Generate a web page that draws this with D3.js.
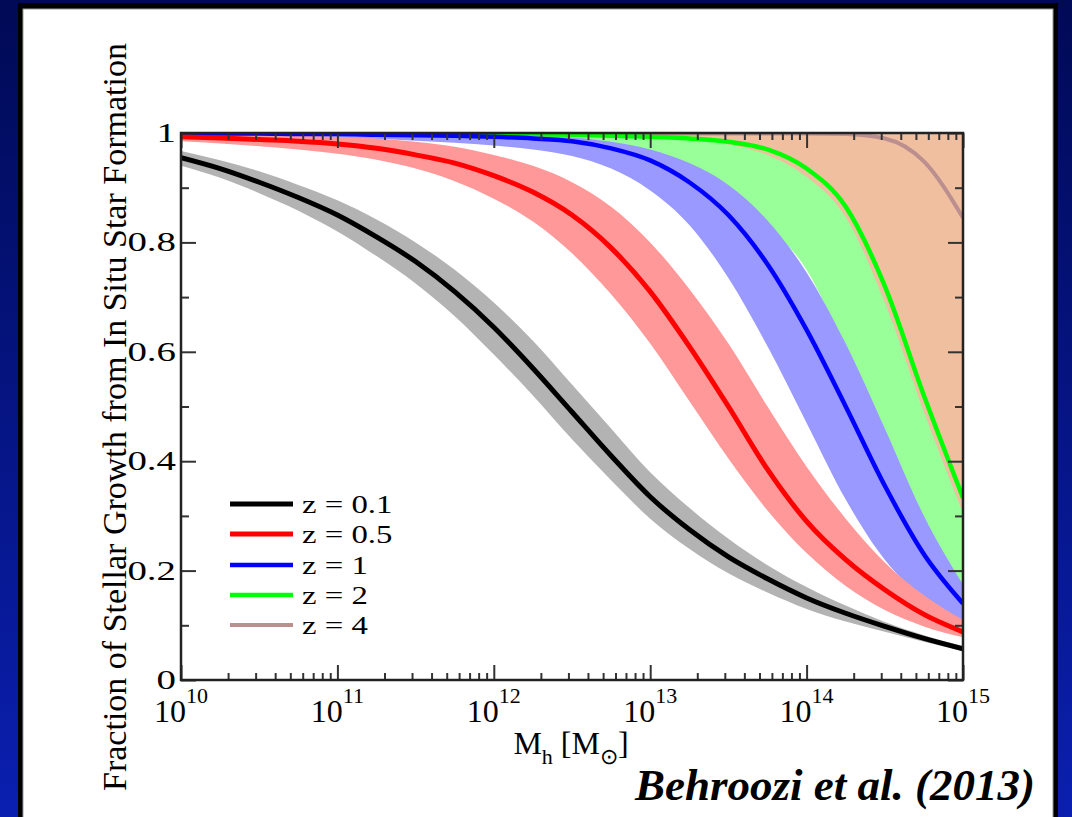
<!DOCTYPE html>
<html>
<head>
<meta charset="utf-8">
<script src="https://cdn.jsdelivr.net/npm/d3@7"></script>
<style>
html, body { margin: 0; padding: 0; overflow: hidden; background: #000b57; }
svg { display: block; }
text { font-family: "Liberation Serif", "Times New Roman", serif; }
</style>
</head>
<body>
<div id="chart"></div>
<script>
// log10 of halo mass, shared x grid for every series
const logMass = [10, 10.25, 10.5, 10.75, 11, 11.25, 11.5, 11.75, 12, 12.25, 12.5,
                 12.75, 13, 13.25, 13.5, 13.75, 14, 14.25, 14.5, 14.75, 15];

// in situ fraction, central lines
const frac_z01 = [0.955, 0.935, 0.91, 0.882, 0.85, 0.81, 0.765, 0.71, 0.645, 0.57, 0.49,
                  0.41, 0.335, 0.275, 0.225, 0.185, 0.15, 0.122, 0.098, 0.076, 0.057];
const frac_z05 = [0.993, 0.991, 0.988, 0.985, 0.98, 0.972, 0.96, 0.945, 0.922, 0.892, 0.85,
                  0.79, 0.71, 0.61, 0.5, 0.385, 0.29, 0.22, 0.165, 0.12, 0.088];
const frac_z1  = [0.999, 0.999, 0.999, 0.998, 0.998, 0.997, 0.996, 0.995, 0.993, 0.99, 0.985,
                  0.972, 0.95, 0.91, 0.85, 0.76, 0.64, 0.5, 0.355, 0.23, 0.14];
const frac_z2  = [1, 1, 1, 1, 1, 1, 1, 0.999, 0.999, 0.998, 0.997,
                  0.995, 0.993, 0.99, 0.984, 0.97, 0.935, 0.865, 0.72, 0.52, 0.333];
const frac_z4  = [1, 1, 1, 1, 1, 1, 1, 1, 1, 1, 1,
                  1, 0.999, 0.999, 0.999, 0.999, 0.999, 0.998, 0.99, 0.948, 0.845];

// uncertainty bands (lower / upper)
const band_z01_lo = [0.94, 0.918, 0.89, 0.858, 0.82, 0.775, 0.725, 0.665, 0.595, 0.52, 0.44,
                     0.365, 0.295, 0.24, 0.195, 0.16, 0.13, 0.107, 0.088, 0.07, 0.053];
const band_z01_hi = [0.967, 0.95, 0.93, 0.905, 0.877, 0.842, 0.8, 0.75, 0.69, 0.62, 0.54,
                     0.46, 0.38, 0.315, 0.258, 0.21, 0.17, 0.136, 0.106, 0.082, 0.062];
const band_z05_lo = [0.985, 0.981, 0.976, 0.97, 0.962, 0.951, 0.935, 0.912, 0.88, 0.838, 0.78,
                     0.705, 0.615, 0.51, 0.405, 0.31, 0.232, 0.172, 0.128, 0.098, 0.078];
const band_z05_hi = [0.999, 0.998, 0.997, 0.995, 0.993, 0.99, 0.984, 0.975, 0.96, 0.94, 0.91,
                     0.865, 0.8, 0.715, 0.615, 0.5, 0.39, 0.295, 0.215, 0.155, 0.11];
const band_z1_lo  = [0.997, 0.996, 0.995, 0.993, 0.991, 0.989, 0.986, 0.982, 0.977, 0.97, 0.958,
                     0.935, 0.895, 0.832, 0.735, 0.61, 0.47, 0.33, 0.22, 0.15, 0.106];
const band_z1_hi  = [1, 1, 1, 1, 1, 0.999, 0.999, 0.998, 0.997, 0.995, 0.992,
                     0.984, 0.97, 0.945, 0.905, 0.84, 0.745, 0.615, 0.46, 0.3, 0.175];
const band_z2_lo  = [1, 1, 1, 1, 0.999, 0.999, 0.998, 0.997, 0.995, 0.992, 0.987,
                     0.978, 0.962, 0.935, 0.89, 0.83, 0.75, 0.6, 0.42, 0.27, 0.165];
const band_z2_hi  = [1, 1, 1, 1, 1, 1, 1, 1, 1, 1, 1,
                     1, 1, 1, 1, 1, 1, 1, 1, 1, 1];
const band_z4_lo  = [1, 1, 1, 1, 1, 1, 1, 1, 1, 1, 1,
                     0.999, 0.997, 0.992, 0.979, 0.96, 0.92, 0.846, 0.69, 0.49, 0.305];
const band_z4_hi  = [1, 1, 1, 1, 1, 1, 1, 1, 1, 1, 1,
                     1, 1, 1, 1, 1, 1, 1, 1, 1, 1];

const legendLabels = ["z = 0.1", "z = 0.5", "z = 1", "z = 2", "z = 4"];
const yTicks = [0, 0.2, 0.4, 0.6, 0.8, 1];
const yTickLabels = ["0", "0.2", "0.4", "0.6", "0.8", "1"];
const yMinor = [0.1, 0.3, 0.5, 0.7, 0.9];
const xDecades = [10, 11, 12, 13, 14, 15];

const W = 1072, H = 817;
const svg = d3.select("#chart").append("svg").attr("width", W).attr("height", H);

// slide background
const defs = svg.append("defs");
const grad = defs.append("linearGradient").attr("id", "bg").attr("x1", 0).attr("y1", 0).attr("x2", 0).attr("y2", 1);
grad.append("stop").attr("offset", "0%").attr("stop-color", "#000a55");
grad.append("stop").attr("offset", "100%").attr("stop-color", "#0a1fb0");
svg.append("rect").attr("width", W).attr("height", H).attr("fill", "url(#bg)");

svg.append("rect").attr("x", 18).attr("y", 3).attr("width", 1040).attr("height", 840).attr("fill", "#000");
svg.append("rect").attr("x", 23).attr("y", 9).attr("width", 1030).attr("height", 830)
    .attr("fill", "#fff").attr("stroke", "#999").attr("stroke-width", 1);

const plotLeft = 181, plotRight = 963, plotTop = 133, plotBottom = 680;

const x = d3.scaleLog().domain([1e10, 1e15]).range([plotLeft, plotRight]);
const y = d3.scaleLinear().domain([0, 1]).range([plotBottom, plotTop]);

defs.append("clipPath").attr("id", "plotclip")
    .append("rect").attr("x", plotLeft).attr("y", plotTop - 1)
    .attr("width", plotRight - plotLeft).attr("height", plotBottom - plotTop + 1);

const series = [
    { label: legendLabels[0], line: frac_z01, lo: band_z01_lo, hi: band_z01_hi, lineColor: "#000000", bandColor: "#b3b3b3", width: 5 },
    { label: legendLabels[1], line: frac_z05, lo: band_z05_lo, hi: band_z05_hi, lineColor: "#ff0000", bandColor: "#ff9999", width: 5 },
    { label: legendLabels[2], line: frac_z1,  lo: band_z1_lo,  hi: band_z1_hi,  lineColor: "#0000ff", bandColor: "#9999ff", width: 4.5 },
    { label: legendLabels[3], line: frac_z2,  lo: band_z2_lo,  hi: band_z2_hi,  lineColor: "#00ff00", bandColor: "#99ff99", width: 4.5 },
    { label: legendLabels[4], line: frac_z4,  lo: band_z4_lo,  hi: band_z4_hi,  lineColor: "#bc8f8f", bandColor: "#efbfa0", width: 4 }
];

const plot = svg.append("g").attr("clip-path", "url(#plotclip)");

const area = d3.area()
    .x(d => x(Math.pow(10, d.m)))
    .y0(d => y(d.lo))
    .y1(d => y(d.hi))
    .curve(d3.curveMonotoneX);

const line = d3.line()
    .x(d => x(Math.pow(10, d.m)))
    .y(d => y(d.v))
    .curve(d3.curveMonotoneX);

// band draw order: z=2, z=4, z=1, z=0.5, z=0.1
[3, 4, 2, 1, 0].forEach(i => {
    const s = series[i];
    plot.append("path")
        .datum(logMass.map((m, j) => ({ m: m, lo: s.lo[j], hi: s.hi[j] })))
        .attr("fill", s.bandColor)
        .attr("d", area);
});

[4, 3, 2, 1, 0].forEach(i => {
    const s = series[i];
    plot.append("path")
        .datum(logMass.map((m, j) => ({ m: m, v: s.line[j] })))
        .attr("fill", "none")
        .attr("stroke", s.lineColor)
        .attr("stroke-width", s.width)
        .attr("d", line);
});

// axes with inward ticks
const majorX = xDecades.map(d => Math.pow(10, d));
const minorX = [];
xDecades.slice(0, -1).forEach(d => {
    for (let k = 2; k <= 9; k++) minorX.push(k * Math.pow(10, d));
});

function styleAxis(g) {
    g.select(".domain").remove();
    g.selectAll(".tick line").attr("stroke", "#333").attr("stroke-width", 2);
    g.selectAll(".tick text").remove();
}

svg.append("g").attr("transform", `translate(0,${plotBottom})`)
    .call(d3.axisBottom(x).tickValues(majorX).tickSize(-15)).call(styleAxis);
svg.append("g").attr("transform", `translate(0,${plotBottom})`)
    .call(d3.axisBottom(x).tickValues(minorX).tickSize(-7)).call(styleAxis);
svg.append("g").attr("transform", `translate(0,${plotTop})`)
    .call(d3.axisTop(x).tickValues(majorX).tickSize(-15)).call(styleAxis);
svg.append("g").attr("transform", `translate(0,${plotTop})`)
    .call(d3.axisTop(x).tickValues(minorX).tickSize(-7)).call(styleAxis);

svg.append("g").attr("transform", `translate(${plotLeft},0)`)
    .call(d3.axisLeft(y).tickValues(yTicks).tickSize(-15)).call(styleAxis);
svg.append("g").attr("transform", `translate(${plotLeft},0)`)
    .call(d3.axisLeft(y).tickValues(yMinor).tickSize(-8)).call(styleAxis);
svg.append("g").attr("transform", `translate(${plotRight},0)`)
    .call(d3.axisRight(y).tickValues(yTicks).tickSize(-15)).call(styleAxis);
svg.append("g").attr("transform", `translate(${plotRight},0)`)
    .call(d3.axisRight(y).tickValues(yMinor).tickSize(-8)).call(styleAxis);

svg.append("rect")
    .attr("x", plotLeft).attr("y", plotTop)
    .attr("width", plotRight - plotLeft).attr("height", plotBottom - plotTop)
    .attr("fill", "none").attr("stroke", "#222").attr("stroke-width", 2.5);

// y tick labels (stretched wide, as in the original)
yTicks.forEach((t, i) => {
    svg.append("text")
        .attr("transform", `translate(176,${y(t) + 9}) scale(1.44,1)`)
        .attr("text-anchor", "end")
        .attr("font-size", 27)
        .text(yTickLabels[i]);
});

// x tick labels 10^n
xDecades.forEach(d => {
    const t = svg.append("text")
        .attr("x", x(Math.pow(10, d)))
        .attr("y", 722)
        .attr("text-anchor", "middle")
        .attr("font-size", 32);
    t.append("tspan").text("10");
    t.append("tspan").attr("font-size", 22).attr("dy", -19).text(d);
});

// axis titles
const xt = svg.append("text")
    .attr("x", 571).attr("y", 754)
    .attr("text-anchor", "middle")
    .attr("font-size", 32);
xt.append("tspan").text("M");
xt.append("tspan").attr("font-size", 22).attr("dy", 10).text("h");
xt.append("tspan").attr("dy", -10).text(" [M");
xt.append("tspan").attr("font-size", 22).attr("dy", 10).text("\u2299");
xt.append("tspan").attr("dy", -10).text("]");

svg.append("text")
    .attr("transform", "translate(126,417) rotate(-90)")
    .attr("text-anchor", "middle")
    .attr("font-size", 34)
    .text("Fraction of Stellar Growth from In Situ Star Formation");

// legend
const legendY = [504, 534, 565, 595, 625];
series.forEach((s, i) => {
    svg.append("line")
        .attr("x1", 230).attr("x2", 293)
        .attr("y1", legendY[i]).attr("y2", legendY[i])
        .attr("stroke", s.lineColor).attr("stroke-width", s.width);
    svg.append("text")
        .attr("transform", `translate(302,${legendY[i] + 9}) scale(1.26,1)`)
        .attr("font-size", 26)
        .text(s.label);
});

// citation
svg.append("text")
    .attr("x", 1035).attr("y", 800)
    .attr("text-anchor", "end")
    .attr("font-size", 45)
    .attr("font-weight", "bold")
    .attr("font-style", "italic")
    .text("Behroozi et al. (2013)");
</script>
</body>
</html>
